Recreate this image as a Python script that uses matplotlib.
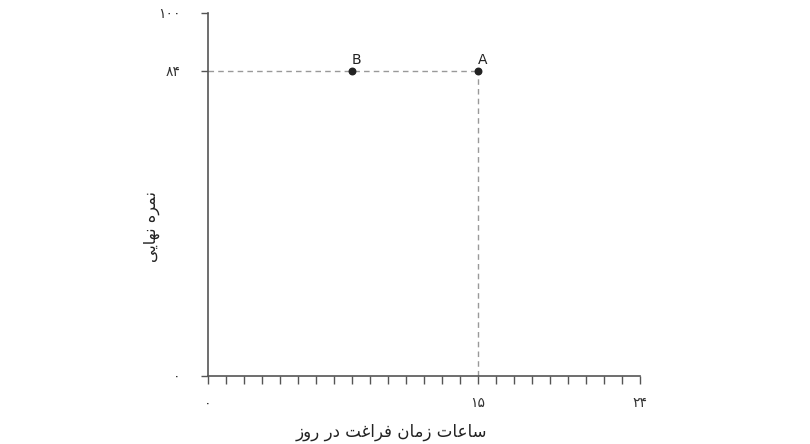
import matplotlib
matplotlib.use('Agg')
import matplotlib.pyplot as plt

# ---- data ----
X_MAX = 24
Y_MAX = 100
X_TICKS_MAJOR = [0, 15, 24]
X_TICK_LABELS = ['۰', '۱۵', '۲۴']
Y_TICKS = [0, 84, 100]
Y_TICK_LABELS = ['۰', '۸۴', '۱۰۰']
POINT_NAMES = ['A', 'B']
POINT_X = [15, 8]
POINT_Y = [84, 84]
X_LABEL = 'ساعات زمان فراغت در روز'
Y_LABEL = 'نمره نهایی'

# contextual forms: isolated, final, initial, medial
FORMS = {
    'ا': ('\uFE8D', '\uFE8E', None, None),
    'د': ('\uFEA9', '\uFEAA', None, None),
    'ر': ('\uFEAD', '\uFEAE', None, None),
    'ز': ('\uFEAF', '\uFEB0', None, None),
    'و': ('\uFEED', '\uFEEE', None, None),
    'س': ('\uFEB1', '\uFEB2', '\uFEB3', '\uFEB4'),
    'ع': ('\uFEC9', '\uFECA', '\uFECB', '\uFECC'),
    'غ': ('\uFECD', '\uFECE', '\uFECF', '\uFED0'),
    'ت': ('\uFE95', '\uFE96', '\uFE97', '\uFE98'),
    'م': ('\uFEE1', '\uFEE2', '\uFEE3', '\uFEE4'),
    'ن': ('\uFEE5', '\uFEE6', '\uFEE7', '\uFEE8'),
    'ف': ('\uFED1', '\uFED2', '\uFED3', '\uFED4'),
    'ه': ('\uFEE9', '\uFEEA', '\uFEEB', '\uFEEC'),
    'ی': ('\uFBFC', '\uFBFD', '\uFBFE', '\uFBFF'),
}


def shape(text):
    """ very small persian shaper + reversal for matplotlib """
    out = []
    for word in text.split(' '):
        s = ''
        for i, ch in enumerate(word):
            f = FORMS.get(ch)
            if f is None:
                s += ch
                continue
            prev = word[i - 1] if i > 0 else None
            nxt = word[i + 1] if i < len(word) - 1 else None
            join_prev = prev in FORMS and FORMS[prev][2] is not None
            join_next = nxt in FORMS and f[2] is not None
            if join_prev and join_next:
                s += f[3]
            elif join_prev:
                s += f[1]
            elif join_next:
                s += f[2]
            else:
                s += f[0]
        out.append(s[::-1])
    return ' '.join(out[::-1])


AXIS_COLOR = '#555555'
DASH_COLOR = '#999999'

fig = plt.figure(figsize=(8.1, 4.44), dpi=100)
ax = fig.add_axes([208 / 810, 68.5 / 444, 432 / 810, 362.5 / 444])

ax.set_xlim(0, X_MAX)
ax.set_ylim(0, Y_MAX)
for side in ['top', 'right']:
    ax.spines[side].set_visible(False)
for side in ['left', 'bottom']:
    ax.spines[side].set_color(AXIS_COLOR)
    ax.spines[side].set_linewidth(1.2)

ax.set_xticks(range(0, X_MAX + 1))
ax.set_xticklabels([X_TICK_LABELS[X_TICKS_MAJOR.index(t)] if t in X_TICKS_MAJOR else ''
                    for t in range(0, X_MAX + 1)])
ax.set_yticks(Y_TICKS)
ax.set_yticklabels(Y_TICK_LABELS)
ax.tick_params(axis='x', length=6, width=1, color=AXIS_COLOR, pad=9,
               labelsize=10, labelcolor='#333333')
ax.tick_params(axis='y', length=5, width=1, color=AXIS_COLOR, pad=15,
               labelsize=10, labelcolor='#333333')

# dashed guides to point A
ax.plot([0, POINT_X[0]], [POINT_Y[0], POINT_Y[0]], linestyle=(0, (4, 3)),
        color=DASH_COLOR, linewidth=1, zorder=2)
ax.plot([POINT_X[0], POINT_X[0]], [0, POINT_Y[0]], linestyle=(0, (4, 3)),
        color=DASH_COLOR, linewidth=1, zorder=2)

ax.scatter(POINT_X, POINT_Y, s=22, color='#222222', zorder=3, clip_on=False)
for name, x, y in zip(POINT_NAMES, POINT_X, POINT_Y):
    ax.annotate(name, (x, y), xytext=(3, 3), textcoords='offset points',
                ha='center', va='bottom', fontsize=10, color='#222222')

ax.set_xlabel(shape(X_LABEL), fontsize=12, color='#222222')
ax.xaxis.set_label_coords(0.425, -0.13)
ax.set_ylabel(shape(Y_LABEL), fontsize=11.5, color='#222222')
ax.yaxis.set_label_coords(-0.11, 0.41)

fig.savefig('out.png', dpi=100)
